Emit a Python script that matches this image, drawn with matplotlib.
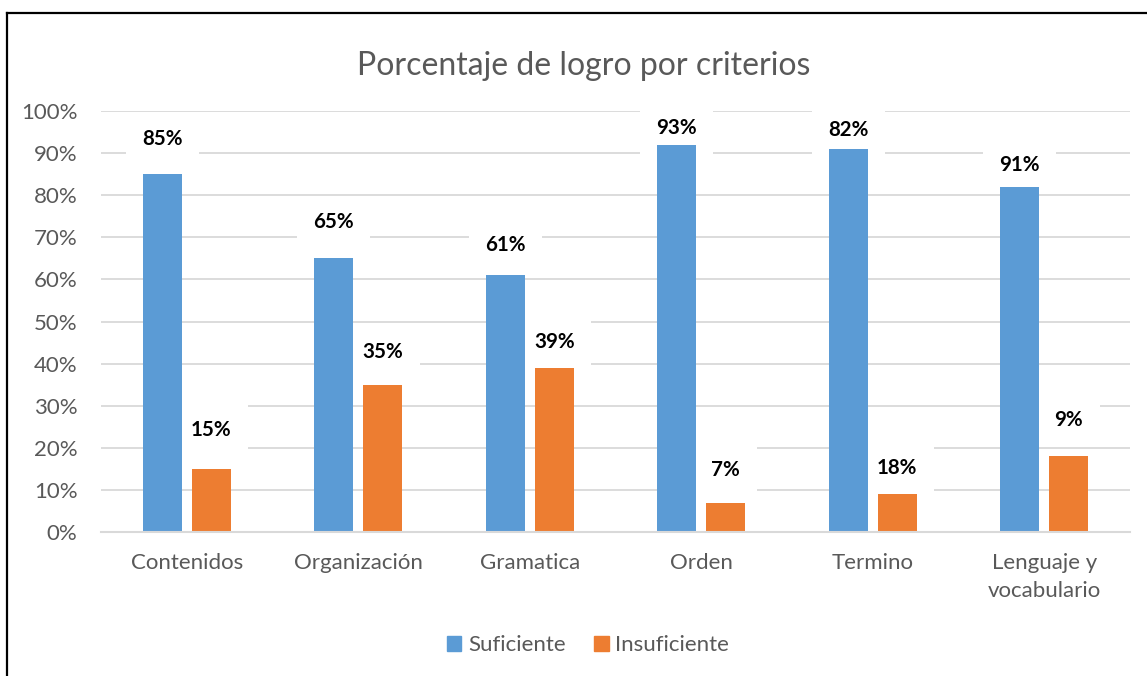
import matplotlib
matplotlib.use("Agg")
import matplotlib.pyplot as plt
import numpy as np
from matplotlib.lines import Line2D
from matplotlib.patches import Patch

# ---- data ----
categories = ["Contenidos", "Organización", "Gramatica", "Orden", "Termino", "Lenguaje y\nvocabulario"]
suficiente = [0.85, 0.65, 0.61, 0.92, 0.91, 0.82]
insuficiente = [0.15, 0.35, 0.39, 0.07, 0.09, 0.18]
suf_labels = ["85%", "65%", "61%", "93%", "82%", "91%"]
insuf_labels = ["15%", "35%", "39%", "7%", "18%", "9%"]
yticks = [0, 0.1, 0.2, 0.3, 0.4, 0.5, 0.6, 0.7, 0.8, 0.9, 1.0]
ytick_labels = ["0%", "10%", "20%", "30%", "40%", "50%", "60%", "70%", "80%", "90%", "100%"]
title = "Porcentaje de logro por criterios"
series_names = ["Suficiente", "Insuficiente"]

# ---- layout (pixel offsets of labels above bar tops) ----
suf_off = [35, 36, 30, 17, 19, 22]
insuf_off = [39, 33, 26, 33, 26, 36]

plt.rcParams['font.family'] = ['Lato', 'DejaVu Sans']
BLUE = "#5B9BD5"
ORANGE = "#ED7D31"
GREY = "#595959"
GRID = "#D9D9D9"

W, H = 1147, 676
fig = plt.figure(figsize=(W / 100, H / 100), dpi=100)
ax = fig.add_axes([101 / W, 1 - 532 / H, (1130 - 101) / W, (532 - 111) / H])

x = np.arange(len(categories))
bw = 0.227
off = 0.143
b1 = ax.bar(x - off, suficiente, bw, color=BLUE, zorder=2)
b2 = ax.bar(x + off, insuficiente, bw, color=ORANGE, zorder=2)

for bars, labs, offs in ((b1, suf_labels, suf_off), (b2, insuf_labels, insuf_off)):
    for r, lab, o in zip(bars, labs, offs):
        ax.annotate(lab, (r.get_x() + r.get_width() / 2, r.get_height()),
                    xytext=(0, o), textcoords='offset pixels',
                    ha='center', va='center', fontsize=14.8, fontweight='bold',
                    color='black', zorder=1.5,
                    bbox=dict(boxstyle='square,pad=0.8', fc='white', ec='none'))

ax.set_xlim(-0.5, len(categories) - 0.5)
ax.set_ylim(0, 1.0)
ax.set_yticks(yticks)
ax.set_yticklabels(ytick_labels)
ax.set_xticks(x)
ax.set_xticklabels(categories, linespacing=1.5)
ax.tick_params(axis='y', length=0, pad=17, labelsize=16, labelcolor=GREY)
ax.tick_params(axis='x', length=0, pad=15, labelsize=16, labelcolor=GREY)
ax.yaxis.grid(True, color=GRID, lw=1.3, zorder=0)
ax.set_axisbelow(True)
for s in ("left", "right", "top"):
    ax.spines[s].set_visible(False)
ax.spines["bottom"].set_color(GRID)
ax.spines["bottom"].set_linewidth(1.5)

fig.text(584 / W, 1 - 66 / H, title, ha='center', va='center', fontsize=23.0, color=GREY)

handles = [Patch(color=BLUE), Patch(color=ORANGE)]
fig.legend(handles, series_names, loc='center', bbox_to_anchor=(588 / W, 1 - 645 / H),
           ncol=2, frameon=False, fontsize=16, labelcolor=GREY,
           handlelength=0.65, handleheight=0.65, handletextpad=0.3, columnspacing=1.3)

# outer border (left and top)
fig.add_artist(Line2D([7 / W, 7 / W], [0, 1 - 13 / H], transform=fig.transFigure, color='black', lw=1.6))
fig.add_artist(Line2D([7 / W, 1], [1 - 13 / H, 1 - 13 / H], transform=fig.transFigure, color='black', lw=1.6))

fig.savefig("out.png", dpi=100)
